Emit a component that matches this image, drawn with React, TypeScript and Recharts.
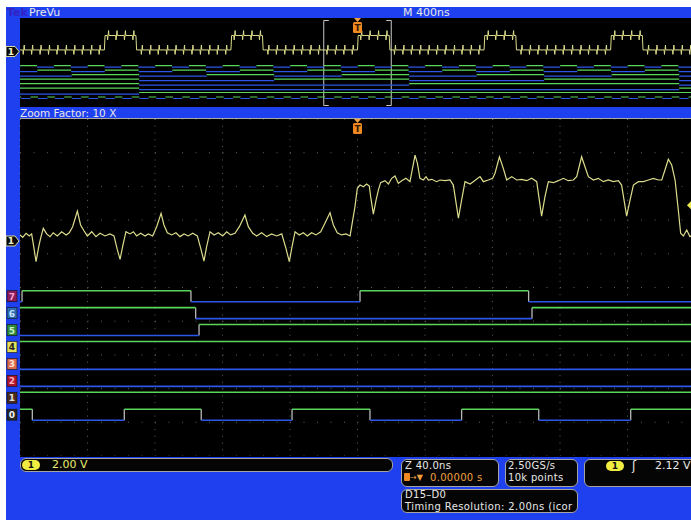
import React from 'react'
import {
  ComposedChart,
  Line,
  XAxis,
  YAxis,
  CartesianGrid,
  ReferenceDot,
  ReferenceArea,
} from 'recharts'

// ---------------- data ----------------

// zoomed analog channel 1, [time ns, volts], 40 ns/div, 2 V/div
const CH1_ZOOM: [number, number][] = [
  [-200, 0.36], [-198.4, 0.22], [-196.4, 0.46], [-194.5, 0.3], [-193.1, 0.42], [-191.7, -0.44],
  [-190.5, -1.23], [-188.9, -0.34], [-187.8, 0.16], [-186.2, 0.75], [-184.2, 0.42], [-182.2, 0.26],
  [-180.3, 0.49], [-177.9, 0.3], [-175.3, 0.55], [-172.7, 0.36], [-170.8, 0.49], [-168.8, 0.85],
  [-166.0, 1.78], [-164.1, 0.95], [-162.1, 0.61], [-160.1, 0.3], [-157.5, 0.55], [-155.0, 0.26],
  [-152.6, 0.46], [-149.6, 0.3], [-146.7, 0.42], [-144.3, 0.3], [-142.3, -0.53], [-140.7, -1.09],
  [-139.2, -0.34], [-137.2, 0.55], [-134.8, 0.42], [-132.8, 0.55], [-130.9, 0.3], [-128.5, 0.46],
  [-125.9, 0.3], [-124.0, 0.42], [-121.4, 0.3], [-119.0, 0.85], [-116.4, 1.64], [-114.7, 0.95],
  [-112.7, 0.49], [-110.1, 0.36], [-107.6, 0.49], [-105.2, 0.26], [-102.8, 0.42], [-100.3, 0.3],
  [-97.7, 0.46], [-94.9, 0.3], [-92.9, -0.44], [-91.0, -1.19], [-89.4, -0.34], [-87.4, 0.55],
  [-85.0, 0.36], [-82.5, 0.49], [-79.9, 0.3], [-77.5, 0.55], [-75.2, 0.36], [-72.6, 0.46],
  [-70.0, 0.85], [-66.7, 1.54], [-64.7, 0.85], [-62.1, 0.46], [-59.8, 0.3], [-56.8, 0.49],
  [-53.8, 0.26], [-50.9, 0.42], [-47.9, 0.3], [-44.9, 0.42], [-42.4, -0.44], [-40.4, -1.23],
  [-38.8, -0.34], [-37.0, 0.55], [-34.5, 0.36], [-32.1, 0.49], [-29.7, 0.3], [-27.2, 0.49],
  [-24.6, 0.36], [-21.8, 0.55], [-19.3, 1.05], [-16.3, 1.68], [-14.3, 0.95], [-12.0, 0.49],
  [-9.4, 0.36], [-6.8, 0.42], [-4.4, 0.3], [-1.5, 2.04], [-0.1, 3.13], [1.5, 3.32],
  [3.5, 3.22], [5.4, 3.38], [7.0, 3.26], [7.8, 2.63], [9.4, 1.6], [11.0, 2.43],
  [12.4, 3.03], [13.7, 3.46], [16.3, 3.58], [18.3, 3.38], [20.3, 3.72], [22.2, 3.86],
  [24.2, 3.42], [26.2, 3.58], [28.7, 3.72], [31.1, 3.52], [34.1, 5.1], [35.5, 4.61],
  [37.0, 3.72], [39.0, 3.62], [40.6, 3.82], [42.0, 3.62], [44.0, 3.66], [46.9, 3.52],
  [48.9, 3.62], [51.9, 3.58], [54.8, 3.62], [56.8, 3.32], [59.8, 1.35], [61.7, 2.43],
  [63.7, 3.52], [66.7, 3.38], [68.6, 3.52], [72.6, 3.82], [74.6, 3.52], [77.5, 3.62],
  [80.1, 3.72], [81.5, 4.02], [84.1, 5.0], [86.4, 4.31], [88.4, 3.62], [91.4, 3.82],
  [94.3, 3.62], [97.3, 3.66], [100.3, 3.58], [103.2, 3.72], [106.2, 3.52], [109.1, 1.48],
  [111.1, 2.63], [113.1, 3.52], [116.1, 3.46], [119.0, 3.58], [122.0, 3.72], [124.9, 3.58],
  [127.9, 3.62], [129.9, 3.82], [132.8, 5.0], [134.8, 4.41], [136.8, 3.82], [139.8, 3.62],
  [142.7, 3.72], [145.7, 3.52], [148.6, 3.62], [151.6, 3.52], [154.6, 3.58], [156.5, 3.32],
  [159.5, 1.48], [161.5, 2.43], [163.5, 3.32], [166.4, 3.52], [169.4, 3.52], [172.4, 3.62],
  [175.3, 3.72], [178.3, 3.62], [180.3, 3.62], [182.2, 4.21], [184.2, 4.85], [186.2, 4.51],
  [188.2, 3.62], [190.1, 1.84], [191.5, 0.46], [193.1, 0.3], [195.1, 0.65], [197.0, 0.26],
  [199.0, 0.36], [200.5, 0.3],
]

// PreVu record, 400 ns/div
const PREVU_HIGH_SPANS: [number, number][] = [
  [-1500, -1313], [-750, -563], [0, 188], [750, 938], [1500, 1688],
]
const PREVU_LEVELS_V = [0.35, 3.6] // low, high
const PREVU_SPIKE_V = [-1.0, 1.1] // dip, peak around each glitch
const PREVU_SPIKE_T = [
  -1978, -1928, -1878, -1828, -1778, -1728, -1678, -1628, -1578, -1528,
  -1478, -1428, -1378, -1328, -1278, -1228, -1178, -1128, -1078, -1028,
  -978, -928, -878, -828, -778, -728, -678, -628, -578, -528,
  -478, -428, -378, -328, -278, -228, -178, -128, -78, -28,
  22, 72, 122, 172, 222, 272, 322, 372, 422, 472,
  522, 572, 622, 672, 722, 772, 822, 872, 922, 972,
  1022, 1072, 1122, 1172, 1222, 1272, 1322, 1372, 1422, 1472,
  1522, 1572, 1622, 1672, 1722, 1772, 1822, 1872, 1922, 1972,
]

// digital channels: level at -2000 ns and edge times (ns)
const D_ROWS = [7, 6, 5, 4, 3, 2, 1, 0]
const D_START = [1, 0, 1, 1, 1, 0, 0, 0] // index = channel
const D0_EDGES = [
  -1993, -1938, -1893, -1838, -1793, -1738, -1693, -1638, -1593, -1538,
  -1493, -1438, -1393, -1338, -1293, -1238, -1193, -1138, -1093, -1038,
  -993, -938, -893, -838, -793, -738, -693, -638, -593, -538,
  -493, -438, -393, -338, -293, -238, -192.7, -138.2, -92.6, -38.8,
  7.4, 61.7, 107.4, 161.9, 207, 262, 307, 362, 407, 462,
  507, 562, 607, 662, 707, 762, 807, 862, 907, 962,
  1007, 1062, 1107, 1162, 1207, 1262, 1307, 1362, 1407, 1462,
  1507, 1562, 1607, 1662, 1707, 1762, 1807, 1862, 1907, 1962,
]
const D1_EDGES = [-1294]
const D2_EDGES = [-1294, 1906]
const D3_EDGES = [-1294, 306, 1906]
const D4_EDGES = [-1294, -494, 306, 1106, 1906]
const D5_EDGES = [-1694, -1294, -894, -494, -93.9, 306, 706, 1106, 1506, 1906]
const D6_EDGES = [
  -1897, -1697, -1497, -1297, -1097, -897, -697, -497, -297, -95.9,
  103.4, 303, 503, 703, 903, 1103, 1303, 1503, 1703, 1903,
]
const D7_EDGES = [
  -1999, -1899, -1799, -1699, -1599, -1499, -1399, -1299, -1199, -1099,
  -999, -899, -799, -699, -599, -499, -399, -299, -198.8, -98.7,
  1.5, 101.4, 201, 301, 401, 501, 601, 701, 801, 901,
  1001, 1101, 1201, 1301, 1401, 1501, 1601, 1701, 1801, 1901,
]
const D_EDGES = [D0_EDGES, D1_EDGES, D2_EDGES, D3_EDGES, D4_EDGES, D5_EDGES, D6_EDGES, D7_EDGES]

const ZOOM_T = [-200, -160, -120, -80, -40, 0, 40, 80, 120, 160, 200]
const ZOOM_V = [-12.76, -10.76, -8.76, -6.76, -4.76, -2.76, -0.76, 1.24, 3.24, 5.24, 7.24]
const TRIG_LEVEL_V = 2.12

// ---------------- look ----------------
const BLUE = '#1e40ee'
const GREEN = '#58d65a'
const LOWBLUE = '#2c56e8'
const EDGE = '#b8b8b8'
const TRACE = '#dcdc8c'
const FONT = '"DejaVu Sans", Verdana, sans-serif'
const PLOT_H = 337
const PLOT_W = 675

const LABEL_BG = ['#262626', '#4a2a1a', '#b0142c', '#d86a50', '#e4e05a', '#2e8a3a', '#2e6cb0', '#8a1a5a']
const LABEL_FG = ['#f0f0f0', '#e0e0e0', '#ffb0c0', '#ffe0d0', '#202020', '#c8f0c8', '#c8e0ff', '#f0a0d0']

type Pt = { t: number; v: number | null }

function digitalSeries(ch: number, hi: number, lo: number) {
  const high: Pt[] = []
  const low: Pt[] = []
  const edges: Pt[] = []
  let state = D_START[ch]
  let start = -2000
  const seg = (a: number, b: number) => {
    const arr = state ? high : low
    const v = state ? hi : lo
    arr.push({ t: a, v }, { t: b, v }, { t: b, v: null })
  }
  for (const e of D_EDGES[ch]) {
    seg(start, e)
    edges.push({ t: e, v: hi }, { t: e, v: lo }, { t: e, v: null })
    state = 1 - state
    start = e
  }
  seg(start, 2000)
  return { high, low, edges }
}

function prevuTrace(): Pt[] {
  const level = (t: number) =>
    PREVU_HIGH_SPANS.some(([a, b]) => t >= a && t < b) ? PREVU_LEVELS_V[1] : PREVU_LEVELS_V[0]
  const events = [
    ...PREVU_SPIKE_T.map((t) => ({ t, spike: true })),
    ...PREVU_HIGH_SPANS.flat().map((t) => ({ t, spike: false })),
  ].sort((a, b) => a.t - b.t)
  const pts: Pt[] = [{ t: -2000, v: level(-2000) }]
  for (const e of events) {
    if (e.spike) {
      const L = level(e.t)
      pts.push(
        { t: e.t - 5, v: L },
        { t: e.t - 3, v: L + PREVU_SPIKE_V[0] },
        { t: e.t + 3, v: L + PREVU_SPIKE_V[1] },
        { t: e.t + 5, v: L },
      )
    } else {
      pts.push({ t: e.t, v: level(e.t - 1) }, { t: e.t + 4, v: level(e.t + 1) })
    }
  }
  pts.push({ t: 2000, v: level(2000) })
  return pts
}

const zoomTrace: Pt[] = CH1_ZOOM.map(([t, v]) => ({ t, v }))

// ---------------- shapes ----------------
const ChannelMarker = (p: any) => {
  const x = p.cx - 14
  const y = p.cy - 5
  return (
    <g>
      <path
        d={`M${x} ${y} H${x + 9} L${x + 13} ${y + 5} L${x + 9} ${y + 10} H${x} Z`}
        fill="#0a0a0a"
        stroke="#d8d8a0"
        strokeWidth={1}
      />
      <text x={x + 5} y={y + 8.5} fill="#f0f0c8" fontSize={9} fontWeight="bold" fontFamily={FONT} textAnchor="middle">
        1
      </text>
    </g>
  )
}

const DigitalLabel = (ch: number) => (p: any) => {
  const x = p.cx - 13
  const y = p.cy - 5.5
  return (
    <g>
      <rect x={x} y={y} width={10} height={11} fill={LABEL_BG[ch]} stroke="#101010" strokeWidth={0.6} />
      <text x={x + 5} y={y + 9} fill={LABEL_FG[ch]} fontSize={9} fontWeight="bold" fontFamily={FONT} textAnchor="middle">
        {ch}
      </text>
    </g>
  )
}

const TriggerT = (p: any) => {
  const x = p.cx
  const y = p.cy
  return (
    <g>
      <path d={`M${x - 3.5} ${y} H${x + 3.5} L${x} ${y + 4} Z`} fill="#f0a040" />
      <rect x={x - 4.5} y={y + 4} width={9} height={11} rx={1.5} fill="#f08a20" />
      <text x={x} y={y + 13} fill="#3a1a00" fontSize={9} fontWeight="bold" fontFamily={FONT} textAnchor="middle">
        T
      </text>
    </g>
  )
}

const TrigLevel = (p: any) => {
  const x = p.cx - 4
  const y = p.cy
  return <path d={`M${x - 4} ${y} L${x} ${y - 4} L${x + 4} ${y} L${x} ${y + 4} Z`} fill="#f0ec50" />
}

const Bracket = (p: any) => {
  const { x, y, width, height } = p
  const t = y + 2.5
  const b = y + height - 1.5
  const r = x + width
  return (
    <path
      d={`M${x + 5} ${t} H${x} V${b} H${x + 5} M${r - 5} ${t} H${r} V${b} H${r - 5}`}
      fill="none"
      stroke="#c8c8c8"
      strokeWidth={1}
    />
  )
}

const MinorXTick = (p: any) => {
  const { x, y } = p
  const mid = y - PLOT_H / 2
  return (
    <g stroke="#8c8c8c" strokeWidth={1}>
      <line x1={x} x2={x} y1={y - 3} y2={y} />
      <line x1={x} x2={x} y1={mid - 2} y2={mid + 2} />
    </g>
  )
}

const MinorYTick = (p: any) => {
  const { x, y } = p
  const mid = x + PLOT_W / 2
  return (
    <g stroke="#8c8c8c" strokeWidth={1}>
      <line x1={x} x2={x + 3} y1={y} y2={y} />
      <line x1={mid - 2} x2={mid + 2} y1={y} y2={y} />
    </g>
  )
}

const MINOR_T = Array.from({ length: 51 }, (_, i) => -200 + i * 8)
const MINOR_Y = Array.from({ length: 51 }, (_, i) => i)

// ---------------- charts ----------------
function PrevuChart() {
  const trace = prevuTrace()
  return (
    <ComposedChart width={689} height={89} margin={{ top: 0, right: 0, bottom: 0, left: 14 }}>
      <XAxis xAxisId="t" type="number" dataKey="t" domain={[-2000, 2000]} allowDataOverflow hide />
      <YAxis yAxisId="a" type="number" dataKey="v" domain={[-12.47, 7.53]} allowDataOverflow hide />
      <YAxis yAxisId="d" type="number" dataKey="v" domain={[-2.07, 17.84]} allowDataOverflow hide />
      {D_ROWS.map((ch) => {
        const s = digitalSeries(ch, ch + 0.17, ch - 0.17)
        return (
          <React.Fragment key={ch}>
            <Line xAxisId="t" yAxisId="d" data={s.low} dataKey="v" stroke={LOWBLUE} strokeWidth={1.2}
              dot={false} activeDot={false} isAnimationActive={false} />
            <Line xAxisId="t" yAxisId="d" data={s.high} dataKey="v" stroke={GREEN} strokeWidth={1.2}
              dot={false} activeDot={false} isAnimationActive={false} />
          </React.Fragment>
        )
      })}
      <Line xAxisId="t" yAxisId="a" data={trace} dataKey="v" stroke={TRACE} strokeWidth={1}
        dot={false} activeDot={false} isAnimationActive={false} />
      <ReferenceArea xAxisId="t" yAxisId="a" x1={-200} x2={200} shape={Bracket} />
      <ReferenceDot xAxisId="t" yAxisId="a" x={-2000} y={0} shape={ChannelMarker} />
      <ReferenceDot xAxisId="t" yAxisId="a" x={0} y={7.53} shape={TriggerT} />
    </ComposedChart>
  )
}

function ZoomChart() {
  return (
    <ComposedChart width={689} height={PLOT_H} margin={{ top: 0, right: 0, bottom: 0, left: 14 }}>
      <XAxis xAxisId="t" type="number" dataKey="t" domain={[-200, 200]} ticks={ZOOM_T} allowDataOverflow hide />
      <XAxis xAxisId="m" type="number" domain={[-200, 200]} ticks={MINOR_T} interval={0} height={0}
        axisLine={false} tickLine={false} tickSize={0} tickMargin={0} tick={MinorXTick} />
      <YAxis yAxisId="a" type="number" dataKey="v" domain={[-12.76, 7.24]} ticks={ZOOM_V} allowDataOverflow hide />
      <YAxis yAxisId="d" type="number" dataKey="v" domain={[-2.44, 17.47]} allowDataOverflow hide />
      <YAxis yAxisId="m" type="number" domain={[0, 50]} ticks={MINOR_Y} interval={0} width={0}
        axisLine={false} tickLine={false} tickSize={0} tickMargin={0} tick={MinorYTick} />
      <CartesianGrid xAxisId="t" yAxisId="a" horizontal={false} stroke="#5e5e5e" strokeDasharray="1 5.74" />
      <CartesianGrid xAxisId="t" yAxisId="a" vertical={false} stroke="#5e5e5e" strokeDasharray="1 12.5" />
      {D_ROWS.map((ch) => {
        const s = digitalSeries(ch, ch + 0.325, ch - 0.325)
        return (
          <React.Fragment key={ch}>
            <Line xAxisId="t" yAxisId="d" data={s.edges} dataKey="v" stroke={EDGE} strokeWidth={1.3}
              dot={false} activeDot={false} isAnimationActive={false} />
            <Line xAxisId="t" yAxisId="d" data={s.low} dataKey="v" stroke={LOWBLUE} strokeWidth={1.6}
              dot={false} activeDot={false} isAnimationActive={false} />
            <Line xAxisId="t" yAxisId="d" data={s.high} dataKey="v" stroke={GREEN} strokeWidth={1.6}
              dot={false} activeDot={false} isAnimationActive={false} />
          </React.Fragment>
        )
      })}
      <Line xAxisId="t" yAxisId="a" data={zoomTrace} dataKey="v" stroke={TRACE} strokeWidth={1.2}
        dot={false} activeDot={false} isAnimationActive={false} />
      <ReferenceDot xAxisId="t" yAxisId="a" x={-200} y={0} shape={ChannelMarker} />
      {D_ROWS.map((ch) => (
        <ReferenceDot key={ch} xAxisId="t" yAxisId="d" x={-200} y={ch} shape={DigitalLabel(ch)} />
      ))}
      <ReferenceDot xAxisId="t" yAxisId="a" x={0} y={7.24} shape={TriggerT} />
      <ReferenceDot xAxisId="t" yAxisId="a" x={200} y={TRIG_LEVEL_V} shape={TrigLevel} />
    </ComposedChart>
  )
}

// ---------------- page ----------------
const Txt = ({ left, top, color = '#e8e8e8', size = 11, bold = false, spacing = 0, children }: any) => (
  <div
    style={{
      position: 'absolute',
      left,
      top,
      color,
      fontSize: size,
      fontWeight: bold ? 'bold' : 'normal',
      letterSpacing: spacing,
      lineHeight: '10px',
      whiteSpace: 'nowrap',
      fontFamily: FONT,
    }}
  >
    {children}
  </div>
)

const Box = ({ left, top, width, height }: any) => (
  <div
    style={{
      position: 'absolute',
      left,
      top,
      width,
      height,
      boxSizing: 'border-box',
      background: '#050505',
      border: '1px solid #a4a4a4',
      borderRadius: 6,
    }}
  />
)

const Chan1Badge = ({ left, top }: any) => (
  <div
    style={{
      position: 'absolute',
      left,
      top,
      width: 18,
      height: 10,
      borderRadius: 6,
      background: '#f0ec40',
      color: '#101010',
      fontSize: 9,
      fontWeight: 'bold',
      lineHeight: '10px',
      textAlign: 'center',
      fontFamily: FONT,
    }}
  >
    1
  </div>
)

export default function App() {
  return (
    <div
      style={{
        position: 'absolute',
        left: 0,
        top: 0,
        width: 691,
        height: 520,
        background: '#ffffff',
        overflow: 'hidden',
        fontFamily: FONT,
      }}
    >
      <div style={{ position: 'absolute', left: 6, top: 7, width: 700, height: 520, background: BLUE }} />

      {/* header */}
      <Txt left={7} top={8} color="#3422c4" bold>Tek</Txt>
      <Txt left={29} top={8}>PreVu</Txt>
      <Txt left={403} top={8}>M 400ns</Txt>

      {/* PreVu record */}
      <div style={{ position: 'absolute', left: 20, top: 18, width: 680, height: 89, background: '#000' }} />
      <div style={{ position: 'absolute', left: 6, top: 18 }}>
        <PrevuChart />
      </div>

      <Txt left={20} top={108} size={10.5}>Zoom Factor: 10 X</Txt>

      {/* zoom window */}
      <div
        style={{
          position: 'absolute',
          left: 20,
          top: 118,
          width: 680,
          height: 339,
          background: '#000',
          borderTop: '1px solid #a8a8a8',
          boxSizing: 'border-box',
        }}
      />
      <div style={{ position: 'absolute', left: 6, top: 119 }}>
        <ZoomChart />
      </div>

      {/* status readouts */}
      <Box left={20} top={458} width={373} height={14} />
      <Chan1Badge left={22} top={460} />
      <Txt left={52} top={460} color="#ecec70">2.00 V</Txt>

      <Box left={401} top={459} width={98} height={28} />
      <Txt left={405} top={461} size={10} spacing={0.3}>Z 40.0ns</Txt>
      <div style={{ position: 'absolute', left: 404, top: 473, width: 6, height: 8, background: '#f08a20', borderRadius: 1 }} />
      <Txt left={410} top={473} color="#f0a040" size={8}>→▼</Txt>
      <Txt left={430} top={473} color="#f0a040" size={10} spacing={0.3}>0.00000 s</Txt>

      <Box left={505} top={459} width={73} height={28} />
      <Txt left={508} top={461} size={10} spacing={0.3}>2.50GS/s</Txt>
      <Txt left={508} top={473} size={10} spacing={0.3}>10k points</Txt>

      <Box left={584} top={459} width={120} height={28} />
      <Chan1Badge left={606} top={461} />
      <Txt left={632} top={461} size={12}>ʃ</Txt>
      <Txt left={655} top={461}>2.12 V</Txt>

      <Box left={401} top={489} width={177} height={24} />
      <Txt left={405} top={490} size={10} spacing={0.3}>D15–D0</Txt>
      <Txt left={405} top={502} size={10} spacing={0.4}>Timing Resolution: 2.00ns (icor</Txt>
    </div>
  )
}
